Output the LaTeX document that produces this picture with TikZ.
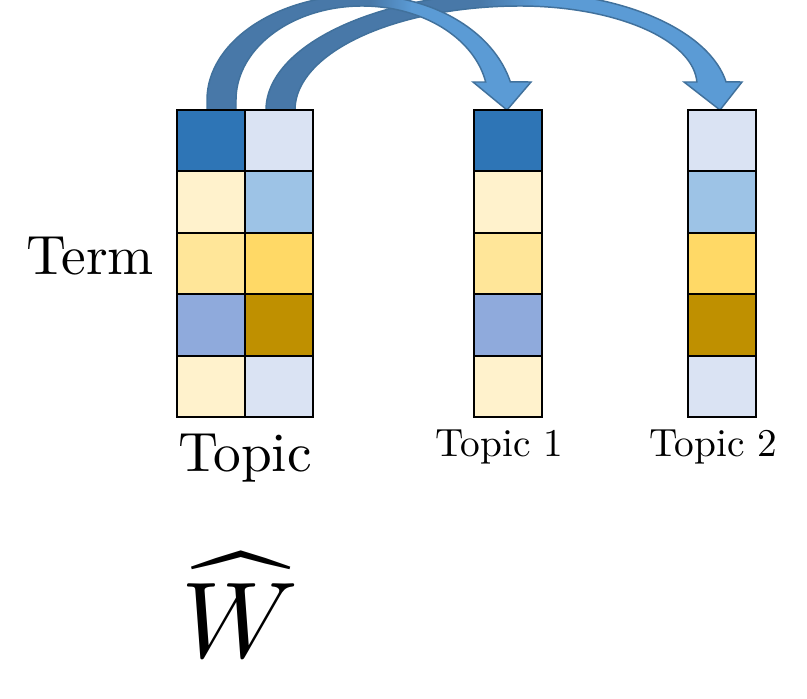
\documentclass[tikz,border=0pt]{standalone}
\usepackage{fontspec}
\usepackage{unicode-math}
\setmainfont{lmroman10-regular.otf}
\definecolor{dblue}{HTML}{2E75B6}
\definecolor{cream}{HTML}{FFF2CC}
\definecolor{lyellow}{HTML}{FFE699}
\definecolor{lav}{HTML}{8FAADC}
\definecolor{vlblue}{HTML}{DAE3F3}
\definecolor{lblue}{HTML}{9DC3E6}
\definecolor{myellow}{HTML}{FFD966}
\definecolor{gold}{HTML}{BF9000}
\definecolor{arrdark}{HTML}{4878A8}
\definecolor{arrlight}{HTML}{5B9BD5}
\definecolor{arroutline}{HTML}{41719C}
\begin{document}
\begin{tikzpicture}[x=0.75pt,y=-0.75pt,
  cell/.style={draw=black,line width=1.5pt,minimum width=51pt,minimum height=46.05pt,inner sep=0pt,outer sep=0pt},
  arrowline/.style={draw=arroutline,line width=1.1pt,line join=miter},
  bigtext/.style={font=\fontsize{41.5}{48}\selectfont,anchor=base,inner sep=0pt},
  smalltext/.style={font=\fontsize{29.5}{34}\selectfont,anchor=base,inner sep=0pt}]
\useasboundingbox (0,0) rectangle (807,699);
\begin{scope}
\clip (0,0) rectangle (807,699);
% ---- arrow 2 (to Topic 2)
\coordinate (b2o) at (266,110);
\coordinate (b2i) at (295,110);
\coordinate (h2l) at (684,82);
\coordinate (h2r) at (742,82);
\coordinate (h2tip) at (720,110);
\path[save path=\arrowtwo]
  (b2o)
  -- plot[domain=0:1,samples=70,variable=\s] ({520-254*cos(90*\s)},{110-118*sin(90*\s)})
  -- plot[domain=0:1,samples=70,variable=\s] ({520+209*cos(90-80.41*\s)},{100-108*sin(90-80.41*\s)})
  -- (h2r) -- (h2tip) -- (h2l)
  -- plot[domain=0:1,samples=70,variable=\s] ({520+177*cos(2.18+87.82*\s)},{85-79*sin(2.18+87.82*\s)})
  -- plot[domain=0:1,samples=70,variable=\s] ({520-225*cos(90-90*\s)},{110-104*sin(90-90*\s)})
  -- (b2i) -- cycle;
\begin{scope}
\clip[use path=\arrowtwo];
\fill[arrdark] (0,-20) rectangle (481,130);
\shade[left color=arrdark,right color=arrlight] (480,-20) rectangle (540,130);
\fill[arrlight] (539,-20) rectangle (807,130);
\end{scope}
\path[arrowline,use path=\arrowtwo];
% ---- arrow 1 (to Topic 1)
\coordinate (b1o) at (207,110);
\coordinate (b1i) at (236,110);
\coordinate (h1l) at (473,82);
\coordinate (h1r) at (531,82);
\coordinate (h1tip) at (507,110);
\path[save path=\arrowone]
  (b1o) -- (207,100)
  -- plot[domain=0:1,samples=70,variable=\s] ({362-155*cos(90*\s)},{100-105*sin(90*\s)})
  -- plot[domain=0:1,samples=70,variable=\s] ({362+153*cos(90-75.91*\s)},{110-115*sin(90-75.91*\s)})
  -- (h1r) -- (h1tip) -- (h1l)
  -- plot[domain=0:1,samples=70,variable=\s] ({362+126*cos(11.04+78.96*\s)},{100-94*sin(11.04+78.96*\s)})
  -- plot[domain=0:1,samples=70,variable=\s] ({362-126*cos(90-90*\s)},{100-94*sin(90-90*\s)})
  -- (b1i) -- cycle;
\begin{scope}
\clip[use path=\arrowone];
\fill[arrdark] (0,-20) rectangle (371,130);
\shade[left color=arrdark,right color=arrlight] (370,-20) rectangle (412,130);
\fill[arrlight] (411,-20) rectangle (807,130);
\end{scope}
\path[arrowline,use path=\arrowone];
\end{scope}
% ---- matrix W-hat and topic columns
\foreach \c [count=\i] in {dblue,cream,lyellow,lav,cream}{
  \node[cell,fill=\c] (w-\i-1) at (211,{79.3+61.4*\i}) {};
  \node[cell,fill=\c] (t1-\i) at (508,{79.3+61.4*\i}) {};
}
\foreach \c [count=\i] in {vlblue,lblue,myellow,gold,vlblue}{
  \node[cell,fill=\c] (w-\i-2) at (279,{79.3+61.4*\i}) {};
  \node[cell,fill=\c] (t2-\i) at (722,{79.3+61.4*\i}) {};
}
% ---- labels
\node[bigtext] (term) at (90,274) {Term};
\node[bigtext] (topic) at (245,471) {Topic};
\node[smalltext] (topic1) at (499.5,456) {Topic 1};
\node[smalltext] (topic2) at (713.5,456) {Topic 2};
\node[anchor=base,inner sep=0pt,font=\fontsize{81}{90}\selectfont] (what) at (240,657) {$\widehat{W}$};
\end{tikzpicture}
\end{document}
